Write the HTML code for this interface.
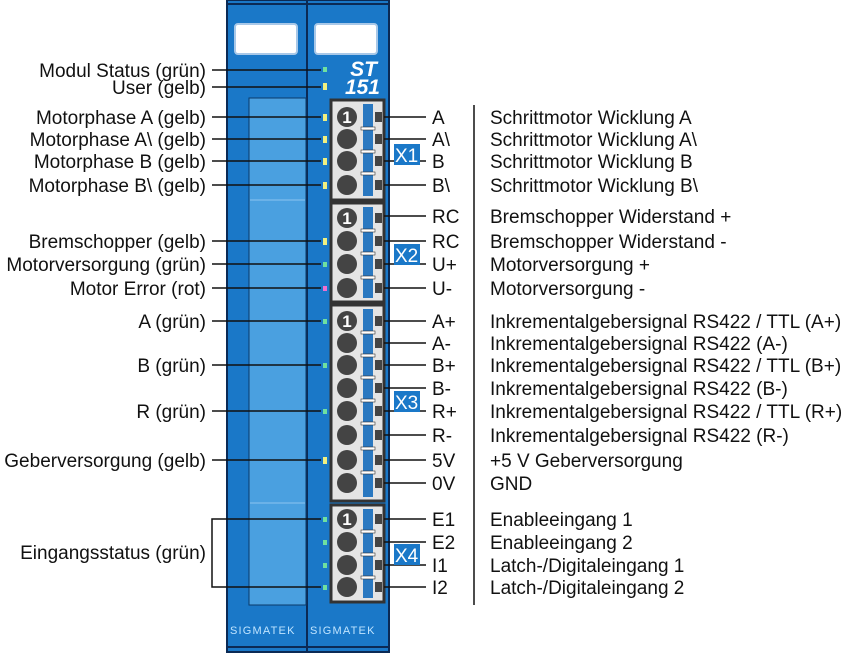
<!DOCTYPE html>
<html><head><meta charset="utf-8"><style>
html,body{margin:0;padding:0;background:#fff}
svg{display:block}
text{font-family:"Liberation Sans",sans-serif;font-size:19px;fill:#111}
.r{text-anchor:end}
</style></head><body>
<svg width="850" height="653" viewBox="0 0 850 653" xmlns="http://www.w3.org/2000/svg">
<rect x="227" y="0" width="162" height="652" fill="#1a78c8" stroke="#0b2a55" stroke-width="2"/>
<line x1="307" y1="0" x2="307" y2="652" stroke="#0b2a55" stroke-width="2"/>
<line x1="227" y1="4" x2="389" y2="4" stroke="#0b2a55" stroke-width="2"/>
<line x1="227" y1="647" x2="389" y2="647" stroke="#0b2a55" stroke-width="2"/>
<rect x="235" y="24" width="62" height="30" rx="3" fill="#fff" stroke="#a8c8e8" stroke-width="2"/>
<rect x="315" y="24" width="62" height="30" rx="3" fill="#fff" stroke="#a8c8e8" stroke-width="2"/>
<text x="377" y="76" style="font-size:21px;font-weight:bold;font-style:italic;fill:#fff" class="r">ST</text>
<text x="380" y="94" style="font-size:21px;font-weight:bold;font-style:italic;fill:#fff" class="r">151</text>
<rect x="249" y="98" width="57" height="507" fill="#4aa0e0" stroke="#0b3a6a" stroke-width="1"/>
<line x1="250" y1="200" x2="305" y2="200" stroke="#8cc4f0" stroke-width="1"/>
<line x1="250" y1="503" x2="305" y2="503" stroke="#8cc4f0" stroke-width="1"/>
<text x="230" y="634" style="font-size:11px;fill:#bfe4ff;letter-spacing:1.2px">SIGMATEK</text>
<text x="310" y="634" style="font-size:11px;fill:#bfe4ff;letter-spacing:1.2px">SIGMATEK</text>

<g stroke="#333" stroke-width="3" fill="#e4e4e4">
<rect x="331" y="100" width="53" height="100"/>
<rect x="331" y="203" width="53" height="99"/>
<rect x="331" y="305" width="53" height="196"/>
<rect x="331" y="505" width="53" height="97"/>
</g>
<g fill="#2a78c0">
<rect x="363" y="104" width="10" height="92"/>
<rect x="363" y="207" width="10" height="91"/>
<rect x="363" y="309" width="10" height="188"/>
<rect x="363" y="509" width="10" height="89"/>
</g>
<g fill="#444">
<circle cx="347" cy="117" r="10"/><circle cx="347" cy="139" r="10"/><circle cx="347" cy="161" r="10"/><circle cx="347" cy="185" r="10"/>
<circle cx="347" cy="218" r="10"/><circle cx="347" cy="241" r="10"/><circle cx="347" cy="264" r="10"/><circle cx="347" cy="288" r="10"/>
<circle cx="347" cy="321" r="10"/><circle cx="347" cy="343" r="10"/><circle cx="347" cy="365" r="10"/><circle cx="347" cy="388" r="10"/>
<circle cx="347" cy="411" r="10"/><circle cx="347" cy="435" r="10"/><circle cx="347" cy="460" r="10"/><circle cx="347" cy="483" r="10"/>
<circle cx="347" cy="519" r="10"/><circle cx="347" cy="542" r="10"/><circle cx="347" cy="565" r="10"/><circle cx="347" cy="587" r="10"/>
<rect x="375" y="112" width="7" height="10"/><rect x="375" y="134" width="7" height="10"/><rect x="375" y="156" width="7" height="10"/><rect x="375" y="180" width="7" height="10"/>
<rect x="375" y="213" width="7" height="10"/><rect x="375" y="236" width="7" height="10"/><rect x="375" y="259" width="7" height="10"/><rect x="375" y="283" width="7" height="10"/>
<rect x="375" y="316" width="7" height="10"/><rect x="375" y="338" width="7" height="10"/><rect x="375" y="360" width="7" height="10"/><rect x="375" y="383" width="7" height="10"/>
<rect x="375" y="406" width="7" height="10"/><rect x="375" y="430" width="7" height="10"/><rect x="375" y="455" width="7" height="10"/><rect x="375" y="478" width="7" height="10"/>
<rect x="375" y="514" width="7" height="10"/><rect x="375" y="537" width="7" height="10"/><rect x="375" y="560" width="7" height="10"/><rect x="375" y="582" width="7" height="10"/>
</g>
<g fill="#fff" stroke="#333" stroke-width="0.6">
<rect x="361" y="127" width="14" height="3"/><rect x="361" y="150" width="14" height="3"/><rect x="361" y="172" width="14" height="3"/>
<rect x="361" y="229" width="14" height="3"/><rect x="361" y="252" width="14" height="3"/><rect x="361" y="276" width="14" height="3"/>
<rect x="361" y="331" width="14" height="3"/><rect x="361" y="354" width="14" height="3"/><rect x="361" y="376" width="14" height="3"/><rect x="361" y="399" width="14" height="3"/>
<rect x="361" y="422" width="14" height="3"/><rect x="361" y="447" width="14" height="3"/><rect x="361" y="471" width="14" height="3"/>
<rect x="361" y="530" width="14" height="3"/><rect x="361" y="553" width="14" height="3"/><rect x="361" y="576" width="14" height="3"/>
</g>
<g text-anchor="middle">
<text x="347" y="123" style="font-size:17px;font-weight:bold;fill:#fff">1</text>
<text x="347" y="224" style="font-size:17px;font-weight:bold;fill:#fff">1</text>
<text x="347" y="327" style="font-size:17px;font-weight:bold;fill:#fff">1</text>
<text x="347" y="525" style="font-size:17px;font-weight:bold;fill:#fff">1</text>
</g>

<g>
<rect x="323" y="67" width="4" height="5" fill="#6fe0a0"/>
<rect x="323" y="83" width="4" height="7" fill="#f0f080"/>
<rect x="323" y="114" width="4" height="7" fill="#f0f080"/><rect x="323" y="136" width="4" height="7" fill="#f0f080"/>
<rect x="323" y="158" width="4" height="7" fill="#f0f080"/><rect x="323" y="182" width="4" height="7" fill="#f0f080"/>
<rect x="323" y="238" width="4" height="7" fill="#f0f080"/>
<rect x="323" y="262" width="4" height="5" fill="#6fe0a0"/>
<rect x="323" y="286" width="4" height="5" fill="#f070d0"/>
<rect x="323" y="319" width="4" height="5" fill="#6fe0a0"/>
<rect x="323" y="363" width="4" height="5" fill="#6fe0a0"/>
<rect x="323" y="409" width="4" height="5" fill="#6fe0a0"/>
<rect x="323" y="457" width="4" height="7" fill="#f0f080"/>
<rect x="323" y="517" width="4" height="5" fill="#6fe0a0"/><rect x="323" y="540" width="4" height="5" fill="#6fe0a0"/>
<rect x="323" y="563" width="4" height="5" fill="#6fe0a0"/><rect x="323" y="585" width="4" height="5" fill="#6fe0a0"/>
</g>

<g stroke="#111" stroke-width="1.5">
<line x1="212" y1="70" x2="321" y2="70"/><line x1="212" y1="87" x2="321" y2="87"/>
<line x1="212" y1="117" x2="321" y2="117"/><line x1="212" y1="139" x2="321" y2="139"/>
<line x1="212" y1="161" x2="321" y2="161"/><line x1="212" y1="185" x2="321" y2="185"/>
<line x1="212" y1="241" x2="321" y2="241"/><line x1="212" y1="264" x2="321" y2="264"/>
<line x1="212" y1="288" x2="321" y2="288"/><line x1="212" y1="321" x2="321" y2="321"/>
<line x1="212" y1="365" x2="321" y2="365"/><line x1="212" y1="411" x2="321" y2="411"/>
<line x1="212" y1="460" x2="321" y2="460"/>
<polyline points="321,519 212,519 212,587 321,587" fill="none"/>
</g>
<text class="r" x="206" y="77">Modul Status (grün)</text>
<text class="r" x="206" y="94">User (gelb)</text>
<text class="r" x="206" y="124">Motorphase A (gelb)</text>
<text class="r" x="206" y="146">Motorphase A\ (gelb)</text>
<text class="r" x="206" y="168">Motorphase B (gelb)</text>
<text class="r" x="206" y="192">Motorphase B\ (gelb)</text>
<text class="r" x="206" y="248">Bremschopper (gelb)</text>
<text class="r" x="206" y="271">Motorversorgung (grün)</text>
<text class="r" x="206" y="295">Motor Error (rot)</text>
<text class="r" x="206" y="328">A (grün)</text>
<text class="r" x="206" y="372">B (grün)</text>
<text class="r" x="206" y="418">R (grün)</text>
<text class="r" x="206" y="467">Geberversorgung (gelb)</text>
<text class="r" x="206" y="559">Eingangsstatus (grün)</text>

<g stroke="#111" stroke-width="1.5">
<line x1="384" y1="117" x2="426" y2="117"/><line x1="384" y1="139" x2="426" y2="139"/>
<line x1="384" y1="161" x2="426" y2="161"/><line x1="384" y1="185" x2="426" y2="185"/>
<line x1="384" y1="216" x2="426" y2="216"/><line x1="384" y1="241" x2="426" y2="241"/>
<line x1="384" y1="264" x2="426" y2="264"/><line x1="384" y1="288" x2="426" y2="288"/>
<line x1="384" y1="321" x2="426" y2="321"/><line x1="384" y1="343" x2="426" y2="343"/>
<line x1="384" y1="365" x2="426" y2="365"/><line x1="384" y1="388" x2="426" y2="388"/>
<line x1="384" y1="411" x2="426" y2="411"/><line x1="384" y1="435" x2="426" y2="435"/>
<line x1="384" y1="460" x2="426" y2="460"/><line x1="384" y1="483" x2="426" y2="483"/>
<line x1="384" y1="519" x2="426" y2="519"/><line x1="384" y1="542" x2="426" y2="542"/>
<line x1="384" y1="565" x2="426" y2="565"/><line x1="384" y1="587" x2="426" y2="587"/>
<line x1="474" y1="105" x2="474" y2="605"/>
</g>
<g fill="#1a78c8">
<rect x="394" y="144" width="26" height="21"/><rect x="394" y="244" width="26" height="21"/>
<rect x="394" y="391" width="26" height="21"/><rect x="394" y="544" width="26" height="21"/>
</g>
<text x="395" y="162" style="fill:#fff">X1</text><text x="395" y="262" style="fill:#fff">X2</text>
<text x="395" y="409" style="fill:#fff">X3</text><text x="395" y="562" style="fill:#fff">X4</text>

<text x="432" y="124">A</text><text x="432" y="146">A\</text><text x="432" y="168">B</text><text x="432" y="192">B\</text>
<text x="432" y="223">RC</text><text x="432" y="248">RC</text><text x="432" y="271">U+</text><text x="432" y="295">U-</text>
<text x="432" y="328">A+</text><text x="432" y="350">A-</text><text x="432" y="372">B+</text><text x="432" y="395">B-</text>
<text x="432" y="418">R+</text><text x="432" y="442">R-</text><text x="432" y="467">5V</text><text x="432" y="490">0V</text>
<text x="432" y="526">E1</text><text x="432" y="549">E2</text><text x="432" y="572">I1</text><text x="432" y="594">I2</text>

<text x="490" y="124">Schrittmotor Wicklung A</text>
<text x="490" y="146">Schrittmotor Wicklung A\</text>
<text x="490" y="168">Schrittmotor Wicklung B</text>
<text x="490" y="192">Schrittmotor Wicklung B\</text>
<text x="490" y="223">Bremschopper Widerstand +</text>
<text x="490" y="248">Bremschopper Widerstand -</text>
<text x="490" y="271">Motorversorgung +</text>
<text x="490" y="295">Motorversorgung -</text>
<text x="490" y="328">Inkrementalgebersignal RS422 / TTL (A+)</text>
<text x="490" y="350">Inkrementalgebersignal RS422 (A-)</text>
<text x="490" y="372">Inkrementalgebersignal RS422 / TTL (B+)</text>
<text x="490" y="395">Inkrementalgebersignal RS422 (B-)</text>
<text x="490" y="418">Inkrementalgebersignal RS422 / TTL (R+)</text>
<text x="490" y="442">Inkrementalgebersignal RS422 (R-)</text>
<text x="490" y="467">+5 V Geberversorgung</text>
<text x="490" y="490">GND</text>
<text x="490" y="526">Enableeingang 1</text>
<text x="490" y="549">Enableeingang 2</text>
<text x="490" y="572">Latch-/Digitaleingang 1</text>
<text x="490" y="594">Latch-/Digitaleingang 2</text>
</svg>
</body></html>
